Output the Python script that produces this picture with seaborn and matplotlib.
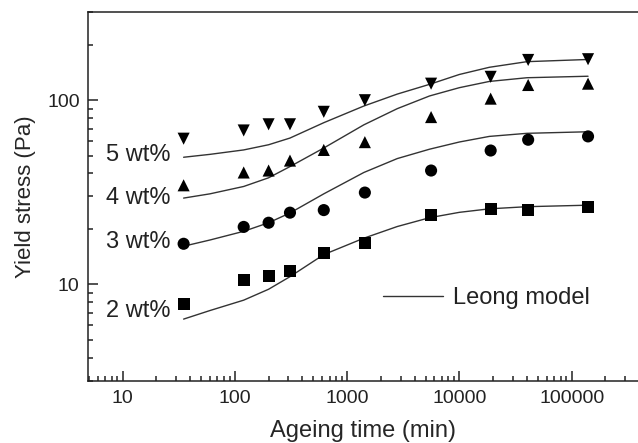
import numpy as np
import pandas as pd
import matplotlib
matplotlib.use("Agg")
import matplotlib.pyplot as plt
from matplotlib.lines import Line2D
from matplotlib.ticker import FixedLocator, FixedFormatter, LogLocator, NullFormatter
import seaborn as sns

# measured data (ageing time in min, yield stress in Pa)
times = [35, 120, 200, 310, 620, 1440, 5600, 19000, 41000, 140000]
stress_2wt = [7.8, 10.5, 11.1, 11.8, 14.8, 16.7, 23.7, 25.6, 25.4, 26.4]
stress_3wt = [16.6, 20.5, 21.6, 24.5, 25.3, 31.5, 41.5, 53.3, 61.0, 63.6]
stress_4wt = [34.5, 40.5, 41.5, 47.0, 53.7, 59.2, 81.0, 102.0, 121.0, 123.0]
stress_5wt = [61.8, 68.5, 74.0, 74.0, 86.5, 100.0, 123.0, 134.0, 165.5, 167.0]

# Leong model curves
model_t = [35, 60, 120, 200, 310, 620, 1410, 2800, 5430, 10000, 18500, 40000, 140000]
model_2wt = [6.47, 7.2, 8.2, 9.4, 11.0, 14.5, 17.8, 20.6, 23.0, 24.6, 25.7, 26.4, 26.9]
model_3wt = [16.1, 17.4, 19.4, 21.6, 24.4, 31.0, 40.5, 48.2, 54.2, 59.3, 63.6, 66.1, 67.4]
model_4wt = [29.4, 31.0, 34.0, 37.9, 43.6, 55.0, 73.5, 90.0, 105.5, 117.0, 126.5, 132.5, 135.0]
model_5wt = [49.0, 50.8, 53.7, 57.3, 62.3, 75.5, 93.0, 108.0, 122.0, 138.0, 151.0, 162.0, 166.5]

series = ['2 wt%', '3 wt%', '4 wt%', '5 wt%']
marker_map = {'2 wt%': 's', '3 wt%': 'o', '4 wt%': '^', '5 wt%': 'v'}
label_y = [7.15, 16.9, 29.5, 50.5]

x_ticks = [10, 100, 1000, 10000, 100000]
x_labels = ['10', '100', '1000', '10000', '100000']
y_ticks = [10, 100]
y_labels = ['10', '100']

pts = pd.DataFrame({
    'time': times * 4,
    'stress': stress_2wt + stress_3wt + stress_4wt + stress_5wt,
    'conc': sum([[s] * len(times) for s in series], []),
})
model = pd.DataFrame({
    'time': model_t * 4,
    'stress': model_2wt + model_3wt + model_4wt + model_5wt,
    'conc': sum([[s] * len(model_t) for s in series], []),
})

sns.set_style('ticks')
plt.rcParams['font.family'] = ['Liberation Sans', 'DejaVu Sans']
plt.rcParams['axes.linewidth'] = 1.1
plt.rcParams['text.color'] = '#222222'

fig = plt.figure(figsize=(6.38, 4.43), dpi=100)
ax = fig.add_axes([0.138, 0.141, 0.862, 0.831])

sns.lineplot(data=model, x='time', y='stress', units='conc', estimator=None,
             color='#333333', lw=1.0, legend=False, ax=ax)
sns.scatterplot(data=pts, x='time', y='stress', style='conc', markers=marker_map,
                color='black', s=76, linewidth=0, legend=False, ax=ax, zorder=3)

ax.set_xscale('log')
ax.set_yscale('log')
ax.set_xlim(4.93, 3.9e5)
ax.set_ylim(3, 300)

ax.xaxis.set_major_locator(FixedLocator(x_ticks))
ax.xaxis.set_major_formatter(FixedFormatter(x_labels))
ax.yaxis.set_major_locator(FixedLocator(y_ticks))
ax.yaxis.set_major_formatter(FixedFormatter(y_labels))
ax.xaxis.set_minor_locator(LogLocator(base=10, subs=np.arange(2, 10), numticks=20))
ax.yaxis.set_minor_locator(LogLocator(base=10, subs=np.arange(2, 10), numticks=20))
ax.xaxis.set_minor_formatter(NullFormatter())
ax.yaxis.set_minor_formatter(NullFormatter())

ax.tick_params(which='both', direction='in', colors='#222222', width=1.1,
               top=False, right=False, labelsize=14)
ax.tick_params(which='major', length=7)
ax.tick_params(which='minor', length=3.5)
ax.tick_params(axis='y', pad=6)
ax.tick_params(axis='x', pad=7)

ax.spines['right'].set_visible(False)
for sp in ['left', 'bottom', 'top']:
    ax.spines[sp].set_color('#222222')

ax.set_xlabel('Ageing time (min)', fontsize=17, labelpad=9)
ax.set_ylabel('Yield stress (Pa)', fontsize=16, labelpad=8)

for name, yy in zip(series, label_y):
    ax.text(27, yy, name, ha='right', va='center', fontsize=17)

handle = Line2D([], [], color='#333333', lw=1.0)
ax.legend([handle], ['Leong model'], loc='center left', bbox_to_anchor=(0.536, 0.224),
          frameon=False, fontsize=17, handlelength=2.55, handletextpad=0.42,
          borderpad=0, borderaxespad=0)

fig.savefig('out.png', dpi=100)
